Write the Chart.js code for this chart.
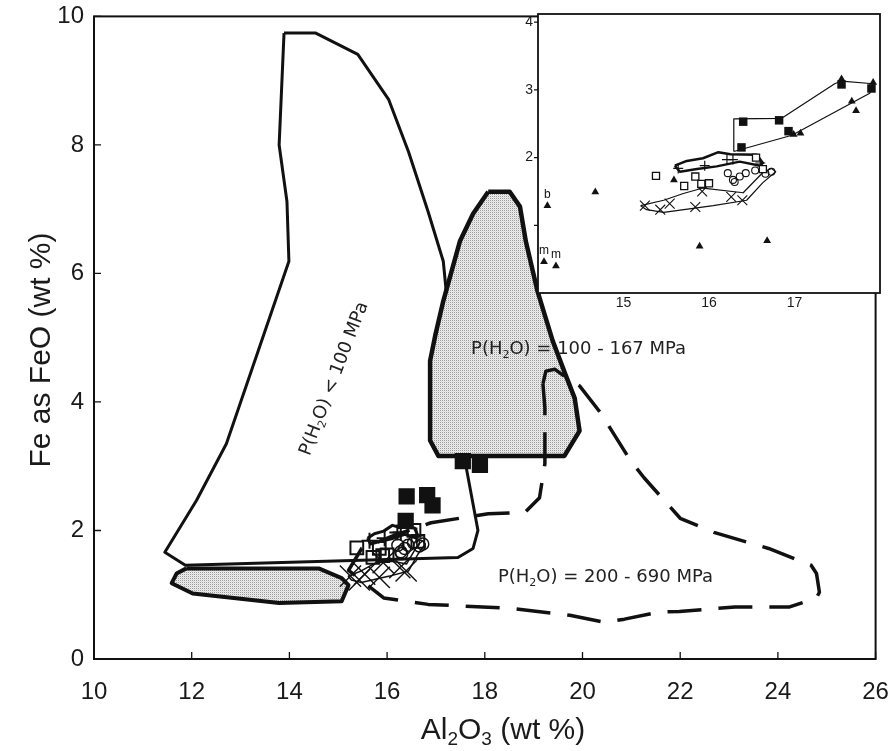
<!DOCTYPE html>
<html><head><meta charset="utf-8">
<script src="https://cdn.jsdelivr.net/npm/chart.js@4.4.0/dist/chart.umd.min.js"></script>
<style>
html,body{margin:0;padding:0;background:#fff;}
#wrap{position:relative;width:892px;height:751px;overflow:hidden;}
#main{position:absolute;left:0;top:0;}
#inset{position:absolute;left:510px;top:0;}
</style></head><body>
<div id="wrap"><canvas id="main" width="892" height="751"></canvas><canvas id="inset" width="382" height="330"></canvas></div>
<script>
// ---------- data (Al2O3 wt %, FeO wt %) ----------
const lowPressureField = [[13.89,9.74],[14.54,9.74],[15.40,9.41],[16.03,8.71],[16.44,7.89],[16.84,6.96],[17.15,6.19],[17.29,5.10],[17.41,4.02],[17.52,3.16],[17.62,2.98],[17.86,2.00],[17.76,1.72],[17.45,1.58],[11.87,1.46],[11.45,1.66],[12.10,2.47],[12.71,3.35],[13.99,6.19],[13.95,7.12],[13.79,8.00]];
const midPressureField = [[18.07,7.27],[18.51,7.27],[18.72,7.04],[18.84,6.50],[19.08,5.72],[19.39,4.95],[19.65,4.43],[19.84,4.06],[19.94,3.55],[19.63,3.16],[17.05,3.16],[16.88,3.40],[16.88,4.64],[16.99,5.05],[17.15,5.57],[17.49,6.50],[17.76,6.93]];
const lowerGrayField = [[11.89,1.41],[14.60,1.41],[15.07,1.26],[15.21,1.15],[15.07,0.90],[13.79,0.87],[12.02,1.02],[11.59,1.18],[11.69,1.33]];
const highPressureField = [[19.19,4.28],[19.25,4.48],[19.43,4.51],[19.63,4.40],[19.94,4.25],[20.37,3.83],[20.98,3.09],[21.26,2.82],[21.73,2.42],[22.00,2.19],[22.69,1.97],[23.81,1.72],[24.68,1.46],[24.79,1.33],[24.85,1.04],[24.79,0.95],[24.24,0.81],[23.12,0.81],[21.98,0.74],[21.57,0.73],[20.86,0.62],[20.45,0.57],[19.74,0.68],[18.53,0.79],[16.84,0.85],[15.93,0.95],[15.21,1.38],[15.48,1.72],[16.13,1.92],[16.90,2.12],[18.07,2.26],[18.82,2.28],[19.12,2.51],[19.23,3.04],[19.23,3.91]];
const squareEnvelope = [[16.29,2.09],[16.29,2.57],[16.85,2.58],[17.47,3.09],[17.55,3.13],[17.92,3.09],[17.88,2.95],[16.97,2.33]];
const plusEnvelope = [[15.60,1.88],[15.74,1.95],[15.93,1.99],[16.11,2.08],[16.25,2.05],[16.56,2.04],[16.63,1.92],[16.60,1.88],[16.36,1.94],[16.09,1.87],[15.86,1.83],[15.66,1.79]];
const crossEnvelope = [[15.20,1.29],[15.47,1.37],[15.70,1.47],[15.93,1.55],[16.40,1.48],[16.63,1.78],[16.73,1.84],[16.78,1.79],[16.63,1.63],[16.44,1.37],[16.05,1.29],[15.47,1.19],[15.27,1.23]];

const filledSquares = [[16.40,2.53],[16.82,2.55],[16.93,2.39],[16.38,2.15],[17.55,3.08],[17.90,3.02]];
const openSquares = [[15.38,1.73],[15.71,1.58],[15.84,1.72],[15.91,1.61],[16.00,1.62],[16.55,2.00],[16.63,1.83]];
const openCircles = [[16.22,1.77],[16.28,1.67],[16.30,1.64],[16.36,1.72],[16.43,1.77],[16.54,1.81],[16.66,1.76],[16.73,1.79]];
const plusPoints = [[15.64,1.84],[15.95,1.88],[16.21,1.97],[16.28,1.97],[16.60,1.92]];
const crossPoints = [[15.25,1.29],[15.43,1.23],[15.54,1.32],[15.84,1.27],[15.92,1.50],[16.26,1.42],[16.39,1.37]];
const triangles = [[17.55,3.16],[17.92,3.11],[17.67,2.83],[17.72,2.69],[17.07,2.36],[16.99,2.34],[15.59,1.67],[14.67,1.49],[14.11,1.29],[15.89,0.69],[16.68,0.77],[14.07,0.46],[14.21,0.40]];
const triangleTags = ['', '', '', '', '', '', '', '', 'b', '', '', 'm', 'm'];

const xTicksMain = [10,12,14,16,18,20,22,24,26];
const yTicksMain = [0,2,4,6,8,10];
const xTicksInset = [15,16,17];
const yTicksInset = [2,3,4];

const fieldLabels = [
  {parts:[['P(H',0],['2',1],['O) < 100 MPa',0]], x:14.92, y:4.36, rot:-69},
  {parts:[['P(H',0],['2',1],['O) = 100 - 167 MPa',0]], x:19.92, y:4.82, rot:0},
  {parts:[['P(H',0],['2',1],['O) = 200 - 690 MPa',0]], x:20.47, y:1.27, rot:0}
];

// ---------- helpers ----------
const pts = a => a.map(([x,y]) => ({x, y}));
const closed = a => pts(a.concat([a[0]]));
const FONT = '"Liberation Sans", Arial, Helvetica, sans-serif';

function stipple(ctx){
  const c = document.createElement('canvas'); c.width = 2; c.height = 2;
  const g = c.getContext('2d');
  g.fillStyle = '#eeeeee'; g.fillRect(0,0,2,2);
  g.fillStyle = '#9a9a9a'; g.fillRect(0,0,1,1);
  g.fillStyle = '#dcdcdc'; g.fillRect(1,1,1,1);
  return ctx.createPattern(c, 'repeat');
}

function drawParts(ctx, parts, size, family, weight){
  const big = `${weight} ${size}px ${family}`;
  const small = `${weight} ${Math.round(size*0.62)}px ${family}`;
  let total = 0;
  for (const [t,s] of parts){ ctx.font = s ? small : big; total += ctx.measureText(t).width; }
  let x = -total/2;
  ctx.textAlign = 'left'; ctx.textBaseline = 'middle';
  for (const [t,s] of parts){ ctx.font = s ? small : big; ctx.fillText(t, x, s ? size*0.3 : 0); x += ctx.measureText(t).width; }
}

function polyDS(label, arr, o){
  return Object.assign({type:'line', label, data: closed(arr), pointRadius:0, borderColor:'#111', borderWidth:2.5, fill:false, tension:0, borderJoinStyle:'round', borderCapStyle:'butt'}, o);
}
function markDS(label, arr, o){
  return Object.assign({type:'scatter', label, data: pts(arr), pointBorderColor:'#111', pointBackgroundColor:'rgba(0,0,0,0)', order:1}, o);
}

function framePlugin(id, lw, xt, yt){
  return {
    id,
    beforeDraw(chart){
      const {ctx, chartArea:a} = chart;
      ctx.save(); ctx.fillStyle = '#fff'; ctx.fillRect(a.left, a.top, a.right-a.left, a.bottom-a.top); ctx.restore();
    },
    afterDraw(chart){
      const {ctx, chartArea:a, scales:{x, y}} = chart;
      ctx.save(); ctx.strokeStyle = '#111'; ctx.lineWidth = lw;
      ctx.strokeRect(a.left, a.top, a.right-a.left, a.bottom-a.top);
      ctx.lineWidth = 1.3; ctx.beginPath();
      if (xt) for (const t of x.ticks){ const p = x.getPixelForValue(t.value); ctx.moveTo(p, a.bottom); ctx.lineTo(p, a.bottom - xt); }
      if (yt) for (const t of y.ticks){ if (t.value <= 0) continue; const p = y.getPixelForValue(t.value); ctx.moveTo(a.left, p); ctx.lineTo(a.left + yt, p); }
      ctx.stroke(); ctx.restore();
    }
  };
}
function fixX(h){ return s => { s.height = h; s.paddingLeft = 0; s.paddingRight = 0; }; }
function fixY(w){ return s => { s.width = w; s.paddingTop = 0; s.paddingBottom = 0; }; }

// ---------- main chart ----------
const mctx = document.getElementById('main').getContext('2d');
const gray = stipple(mctx);

const mainLabels = {
  id:'mainLabels',
  afterDraw(chart){
    const {ctx, scales:{x, y}} = chart;
    ctx.save(); ctx.fillStyle = '#222';
    for (const L of fieldLabels){
      ctx.save(); ctx.translate(x.getPixelForValue(L.x), y.getPixelForValue(L.y)); ctx.rotate(L.rot*Math.PI/180);
      drawParts(ctx, L.parts, 18, '"DejaVu Sans", sans-serif', 'normal'); ctx.restore();
    }
    ctx.fillStyle = '#1a1a1a';
    ctx.save(); ctx.translate(503, 731); drawParts(ctx, [['Al',0],['2',1],['O',0],['3',1],[' (wt %)',0]], 30, FONT, 'normal'); ctx.restore();
    ctx.save(); ctx.translate(42, 350); ctx.rotate(-Math.PI/2); drawParts(ctx, [['Fe as FeO (wt %)',0]], 30, FONT, 'normal'); ctx.restore();
    ctx.restore();
  }
};

new Chart(mctx, {
  type:'scatter',
  data:{datasets:[
    markDS('Filled squares', filledSquares, {pointStyle:'rect', pointRadius:11.5, pointBackgroundColor:'#111', pointBorderWidth:0}),
    markDS('Open squares', openSquares, {pointStyle:'rect', pointRadius:9, pointBorderWidth:2}),
    markDS('Circles', openCircles, {pointStyle:'circle', pointRadius:6, pointBorderWidth:1.5}),
    markDS('Plus', plusPoints, {pointStyle:'cross', pointRadius:8, pointBorderWidth:2}),
    markDS('Crosses', crossPoints, {pointStyle:'crossRot', pointRadius:15, pointBorderWidth:1.4}),
    polyDS('plus envelope', plusEnvelope, {borderWidth:3, order:5}),
    polyDS('cross envelope', crossEnvelope, {borderWidth:1.5, order:5}),
    polyDS('P(H2O) = 200 - 690 MPa', highPressureField, {borderWidth:3.5, borderDash:[34,17], order:7}),
    polyDS('lower field', lowerGrayField, {borderWidth:4, fill:'shape', backgroundColor:gray, order:8}),
    polyDS('P(H2O) = 100 - 167 MPa', midPressureField, {borderWidth:4.5, fill:'shape', backgroundColor:gray, order:9}),
    polyDS('P(H2O) < 100 MPa', lowPressureField, {borderWidth:3, order:10})
  ]},
  options:{
    responsive:false, animation:false, devicePixelRatio:1,
    layout:{padding:{top:14, right:12, left:0, bottom:0}},
    plugins:{legend:{display:false}, tooltip:{enabled:false}},
    scales:{
      x:{type:'linear', min:10, max:26, afterBuildTicks(s){ s.ticks = xTicksMain.map(v => ({value:v})); },
         ticks:{font:{size:24, family:FONT}, color:'#1a1a1a', padding:19, maxRotation:0},
         grid:{display:false, drawTicks:false}, border:{display:false}, afterFit:fixX(92)},
      y:{type:'linear', min:0, max:10, afterBuildTicks(s){ s.ticks = yTicksMain.map(v => ({value:v})); },
         ticks:{font:{size:24, family:FONT}, color:'#1a1a1a', padding:10},
         grid:{display:false, drawTicks:false}, border:{display:false}, afterFit:fixY(94)}
    }
  },
  plugins:[framePlugin('mainFrame', 2, 7, 7), mainLabels]
});

// ---------- inset chart ----------
const ictx = document.getElementById('inset').getContext('2d');
const insetLabels = {
  id:'insetLabels',
  afterDatasetsDraw(chart){
    const {ctx, scales:{x, y}} = chart;
    ctx.save(); ctx.fillStyle = '#111'; ctx.font = `12px ${FONT}`; ctx.textAlign = 'center'; ctx.textBaseline = 'bottom';
    triangles.forEach(([vx, vy], i) => { if (triangleTags[i]) ctx.fillText(triangleTags[i], x.getPixelForValue(vx), y.getPixelForValue(vy) - 5); });
    ctx.restore();
  }
};

new Chart(ictx, {
  type:'scatter',
  data:{datasets:[
    markDS('Filled squares', filledSquares, {pointStyle:'rect', pointRadius:6, pointBackgroundColor:'#111', pointBorderWidth:0}),
    markDS('Triangles', triangles, {pointStyle:'triangle', pointRadius:4.5, pointBackgroundColor:'#111', pointBorderWidth:0}),
    markDS('Open squares', openSquares, {pointStyle:'rect', pointRadius:5, pointBorderWidth:1.3, pointBackgroundColor:'#fff'}),
    markDS('Circles', openCircles, {pointStyle:'circle', pointRadius:3.5, pointBorderWidth:1.1}),
    markDS('Plus', plusPoints, {pointStyle:'cross', pointRadius:5, pointBorderWidth:1.2}),
    markDS('Crosses', crossPoints, {pointStyle:'crossRot', pointRadius:7, pointBorderWidth:1.1}),
    polyDS('square envelope', squareEnvelope, {borderWidth:1.2, order:5}),
    polyDS('plus envelope', plusEnvelope, {borderWidth:2.5, order:5}),
    polyDS('cross envelope', crossEnvelope, {borderWidth:1.2, order:5})
  ]},
  options:{
    responsive:false, animation:false, devicePixelRatio:1,
    layout:{padding:{top:14, right:12, left:0, bottom:0}},
    plugins:{legend:{display:false}, tooltip:{enabled:false}},
    scales:{
      x:{type:'linear', min:14, max:18, afterBuildTicks(s){ s.ticks = xTicksInset.map(v => ({value:v})); },
         ticks:{font:{size:14, family:FONT}, color:'#1a1a1a', padding:2, maxRotation:0},
         grid:{display:false, drawTicks:false}, border:{display:false}, afterFit:fixX(37)},
      y:{type:'linear', min:0, max:4.12, afterBuildTicks(s){ s.ticks = [1].concat(yTicksInset).map(v => ({value:v})); },
         ticks:{font:{size:14, family:FONT}, color:'#1a1a1a', padding:5, callback:v => yTicksInset.includes(v) ? v : ''},
         grid:{display:false, drawTicks:false}, border:{display:false}, afterFit:fixY(28)}
    }
  },
  plugins:[framePlugin('insetFrame', 1.8, 0, -4), insetLabels]
});
</script>
</body></html>
